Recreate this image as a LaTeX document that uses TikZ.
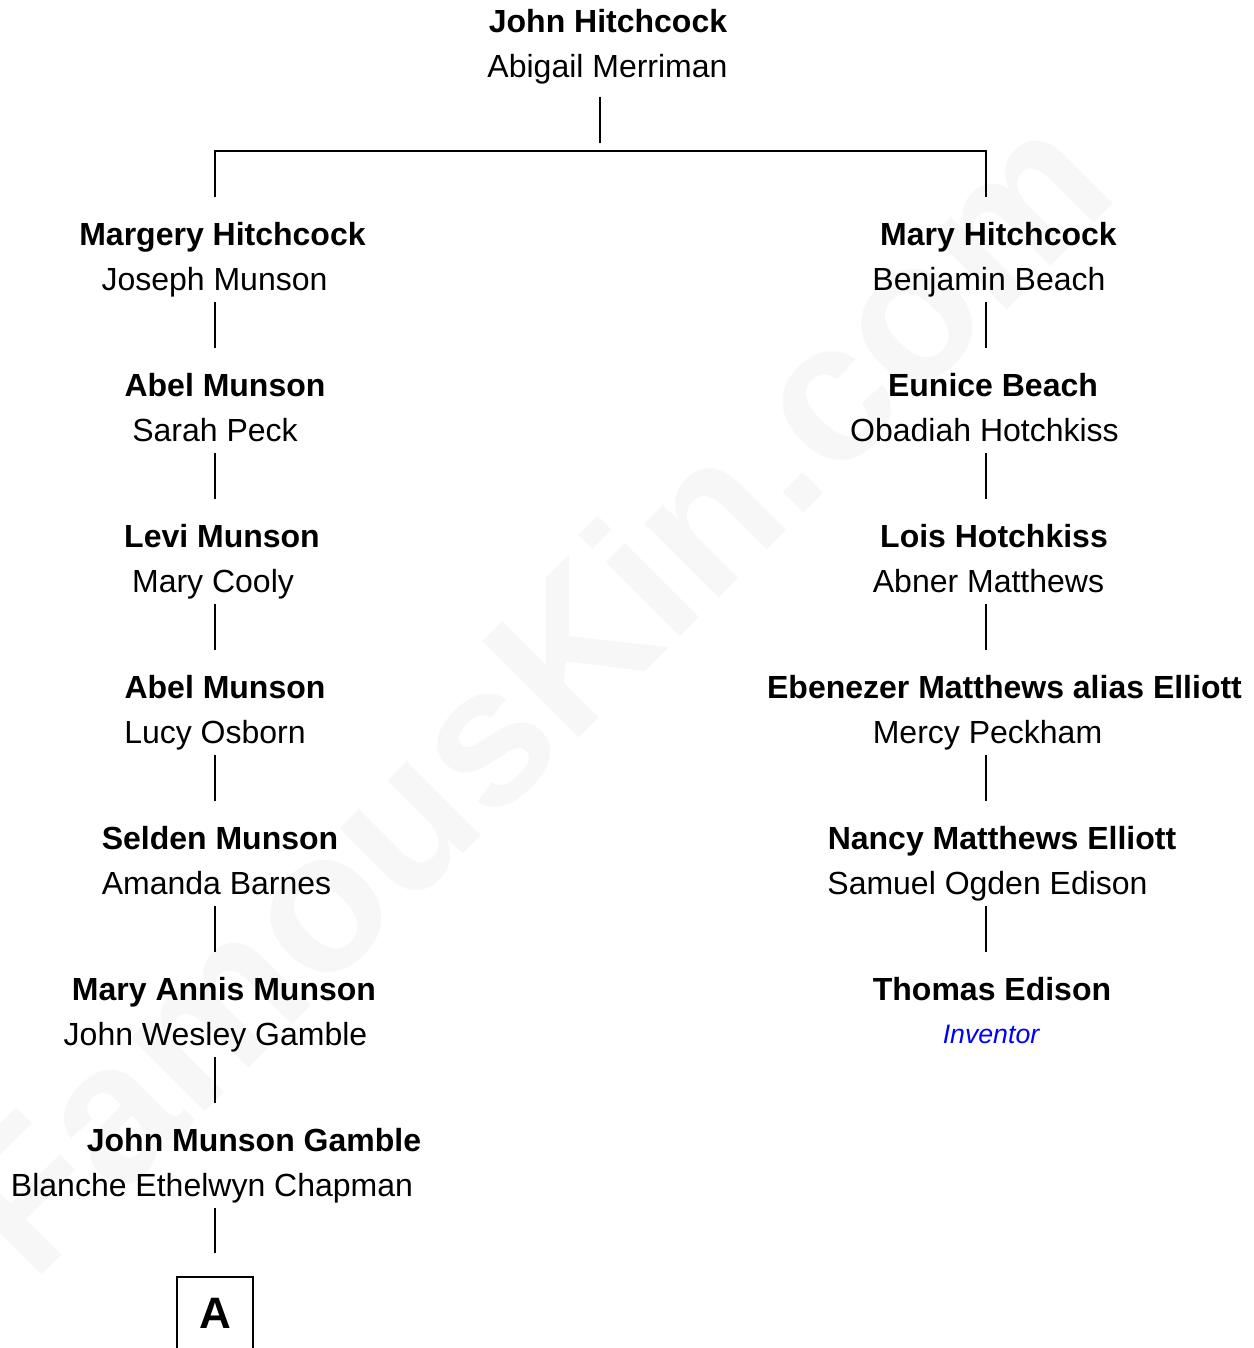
\documentclass[tikz,border=0pt]{standalone}
\usepackage{fontspec}
\setmainfont{Liberation Sans}
\usetikzlibrary{calc}
\definecolor{wm}{RGB}{247,247,247}
\definecolor{inv}{RGB}{0,0,255}
\begin{document}
\begin{tikzpicture}[x=1pt,y=-1pt,
  nm/.style={anchor=base,inner sep=0pt,font=\fontsize{32}{38}\selectfont\bfseries},
  sp/.style={anchor=base,inner sep=0pt,font=\fontsize{32}{38}\selectfont},
  note/.style={anchor=base,inner sep=0pt,font=\fontsize{26.7}{32}\selectfont\itshape,text=inv},
  mark box/.style={anchor=base,draw,line width=1.3pt,inner sep=0pt,minimum width=76pt,
    text height=51pt,text depth=30pt,font=\fontsize{44}{50}\selectfont\bfseries},
  link/.style={line width=1.3pt,black},
  watermark/.style={anchor=base,rotate=45,inner sep=0pt,text=wm,font=\fontsize{198}{220}\selectfont\bfseries}]
\clip (0,0) rectangle (1253,1348);
\fill[white] (0,0) rectangle (1253,1348);
\node[watermark] (wmk) at (577,740) {FamousKin.com};

\coordinate (colT) at (600,0);
\coordinate (colL) at (215,0);
\coordinate (colR) at (986,0);
\coordinate (bar) at (600,151);

% top couple
\node[nm] (t1) at (608,33) {John Hitchcock};
\node[sp] (t2) at (607.5,78) {Abigail Merriman};

% left line
\node[nm] (l1) at (222.5,245) {Margery Hitchcock};
\node[sp] (l1s) at (214.5,290) {Joseph Munson};
\node[nm] (l2) at (225,396) {Abel Munson};
\node[sp] (l2s) at (215,441) {Sarah Peck};
\node[nm] (l3) at (222,547) {Levi Munson};
\node[sp] (l3s) at (213,592) {Mary Cooly};
\node[nm] (l4) at (225,698) {Abel Munson};
\node[sp] (l4s) at (215,743) {Lucy Osborn};
\node[nm] (l5) at (220,849) {Selden Munson};
\node[sp] (l5s) at (216.5,894) {Amanda Barnes};
\node[nm] (l6) at (224,1000) {Mary Annis Munson};
\node[sp] (l6s) at (215.5,1045) {John Wesley Gamble};
\node[nm] (l7) at (254,1151) {John Munson Gamble};
\node[sp] (l7s) at (212,1196) {Blanche Ethelwyn Chapman};
\node[mark box] (A) at (215,1328) {A};

% right line
\node[nm] (r1) at (998.5,245) {Mary Hitchcock};
\node[sp] (r1s) at (989,290) {Benjamin Beach};
\node[nm] (r2) at (993,396) {Eunice Beach};
\node[sp] (r2s) at (984.5,441) {Obadiah Hotchkiss};
\node[nm] (r3) at (994,547) {Lois Hotchkiss};
\node[sp] (r3s) at (988.5,592) {Abner Matthews};
\node[nm] (r4) at (1004.5,698) {Ebenezer Matthews alias Elliott};
\node[sp] (r4s) at (987.5,743) {Mercy Peckham};
\node[nm] (r5) at (1002,849) {Nancy Matthews Elliott};
\node[sp] (r5s) at (987.5,894) {Samuel Ogden Edison};
\node[nm] (r6) at (992,1000) {Thomas Edison};
\node[note] (r6n) at (991,1043) {Inventor};

% connectors
\draw[link] ([yshift=-19pt]t2.base -| colT) -- ([yshift=8pt]bar);
\draw[link] ([yshift=48pt]l1.base -| colL) -- (colL |- bar) -- (colR |- bar) -- ([yshift=48pt]r1.base -| colR);
\foreach \a/\b in {l1s/l2,l2s/l3,l3s/l4,l4s/l5,l5s/l6,l6s/l7}{
  \draw[link] ([yshift=-12pt]\a.base -| colL) -- ([yshift=48pt]\b.base -| colL);
}
\draw[link] ([yshift=-12pt]l7s.base -| colL) -- ([yshift=23pt]A.north -| colL);
\foreach \a/\b in {r1s/r2,r2s/r3,r3s/r4,r4s/r5,r5s/r6}{
  \draw[link] ([yshift=-12pt]\a.base -| colR) -- ([yshift=48pt]\b.base -| colR);
}
\end{tikzpicture}
\end{document}
